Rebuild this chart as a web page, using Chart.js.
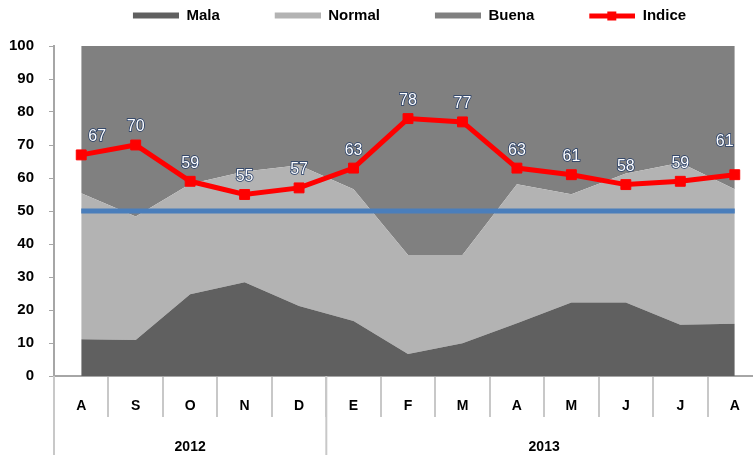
<!DOCTYPE html>
<html>
<head>
<meta charset="utf-8">
<script src="https://cdn.jsdelivr.net/npm/chart.js@4.4.1/dist/chart.umd.min.js"></script>
<style>
  html, body { margin: 0; padding: 0; background: #fff; overflow: hidden; }
  #wrap { width: 753px; height: 455px; }
</style>
</head>
<body>
<div id="wrap"><canvas id="encuesta" width="753" height="455"></canvas></div>
<script>
const meses = ['A', 'S', 'O', 'N', 'D', 'E', 'F', 'M', 'A', 'M', 'J', 'J', 'A'];
const anios = ['2012', '2013'];
const mesesPorAnio = [5, 8];

const mala = [11.1, 10.9, 24.8, 28.4, 21.2, 16.7, 6.7, 9.9, 16.0, 22.3, 22.3, 15.5, 15.8];
const normal = [44.3, 37.4, 33.4, 33.6, 42.7, 39.9, 30.0, 26.8, 42.1, 32.8, 39.1, 49.1, 40.8];
const buena = [44.6, 51.7, 41.8, 38.0, 36.1, 43.4, 63.3, 63.3, 41.9, 44.9, 38.6, 35.4, 43.4];
const indice = [67, 70, 59, 55, 57, 63, 78, 77, 63, 61, 58, 59, 61];
const referencia = [50, 50, 50, 50, 50, 50, 50, 50, 50, 50, 50, 50, 50];

const SANS = "'Liberation Sans', Arial, sans-serif";

// legend swatches (transparent left part gives the wide gap between items)
function muestra(color, conMarca) {
  const c = document.createElement('canvas');
  c.width = 100; c.height = 12;
  const g = c.getContext('2d');
  g.fillStyle = color;
  if (conMarca) {
    g.fillRect(54, 4, 46, 5);
    g.fillRect(72, 2, 9, 9);
  } else {
    g.fillRect(54, 3, 46, 6);
  }
  return c;
}
const muestras = [muestra('#606060'), muestra('#b3b3b3'), muestra('#808080'), muestra('#ff0000', true)];

const leyendaAlta = {
  id: 'leyendaAlta',
  beforeLayout(chart) {
    const lg = chart.legend;
    if (lg && !lg._alto) {
      const fit = lg.fit;
      lg.fit = function () { fit.call(this); this.height = 39; };
      lg._alto = true;
    }
  },
  // the plot area runs a little past the right edge of the picture
  afterLayout(chart) {
    const x = chart.scales.x;
    x.right = 762;
    x.width = x.right - x.left;
    x.configure();
    chart.chartArea.right = 762;
    chart.chartArea.width = chart.chartArea.right - chart.chartArea.left;
    chart.legend.left += 6;
    chart.legend.right += 6;
  }
};

const etiquetas = {
  id: 'etiquetas',
  afterDatasetsDraw(chart) {
    const ctx = chart.ctx;
    const meta = chart.getDatasetMeta(3);
    ctx.save();
    ctx.font = '16px ' + SANS;
    ctx.textAlign = 'center';
    ctx.textBaseline = 'middle';
    meta.data.forEach((p, i) => {
      let dx = 0, dy = -18;
      if (i === 0) dx = 16;
      if (i === meta.data.length - 1) { dx = -10; dy = -33; }
      const t = String(indice[i]);
      ctx.lineWidth = 1.5;
      ctx.strokeStyle = '#1f3864';
      ctx.strokeText(t, p.x + dx, p.y + dy);
      ctx.fillStyle = '#ffffff';
      ctx.fillText(t, p.x + dx, p.y + dy);
    });
    ctx.restore();
  }
};

const ejeAnios = {
  id: 'ejeAnios',
  afterDraw(chart) {
    const x = chart.scales.x, ctx = chart.ctx;
    const paso = x.getPixelForValue(1) - x.getPixelForValue(0);
    ctx.save();
    ctx.strokeStyle = '#c8c8c8';
    ctx.lineWidth = 2;
    ctx.fillStyle = '#000';
    ctx.font = 'bold 14px ' + SANS;
    ctx.textAlign = 'center';
    ctx.textBaseline = 'middle';
    let inicio = 0;
    anios.forEach((a, k) => {
      const izq = x.getPixelForValue(inicio) - paso / 2;
      const der = x.getPixelForValue(inicio + mesesPorAnio[k] - 1) + paso / 2;
      ctx.beginPath();
      ctx.moveTo(izq, x.top);
      ctx.lineTo(izq, chart.height);
      ctx.stroke();
      ctx.fillText(a, (izq + der) / 2, 447);
      inicio += mesesPorAnio[k];
    });
    ctx.restore();
  }
};

function area(label, data, color, fill) {
  return {
    label: label, data: data, fill: fill,
    backgroundColor: color, borderColor: 'rgba(0,0,0,0)', borderWidth: 0,
    pointRadius: 0, pointHoverRadius: 0, tension: 0, stack: 'encuesta', order: 3
  };
}

new Chart(document.getElementById('encuesta'), {
  type: 'line',
  data: {
    labels: meses,
    datasets: [
      area('Mala', mala, '#606060', 'origin'),
      area('Normal', normal, '#b3b3b3', '-1'),
      area('Buena', buena, '#808080', '-1'),
      {
        label: 'Indice', data: indice, stack: 'indice', order: 1,
        borderColor: '#ff0000', borderWidth: 5, fill: false, tension: 0,
        pointStyle: 'rect', pointRadius: 7, pointBackgroundColor: '#ff0000',
        pointBorderColor: '#ff0000', pointBorderWidth: 1, pointHoverRadius: 7
      },
      {
        label: 'Meta', data: referencia, stack: 'meta', order: 2,
        borderColor: '#4a7ebb', borderWidth: 5, fill: false,
        pointRadius: 0, pointHoverRadius: 0
      }
    ]
  },
  options: {
    responsive: false,
    animation: false,
    layout: { padding: { left: 0, top: 7, right: 0, bottom: 0 } },
    plugins: {
      tooltip: { enabled: false },
      legend: {
        position: 'top',
        labels: {
          usePointStyle: true,
          pointStyleWidth: 100,
          padding: 1,
          color: '#000',
          font: { family: SANS, size: 15, weight: 'bold' },
          filter: item => item.datasetIndex < 4,
          sort: (a, b) => a.datasetIndex - b.datasetIndex,
          generateLabels(chart) {
            const items = Chart.defaults.plugins.legend.labels.generateLabels(chart);
            items.forEach(it => { it.pointStyle = muestras[it.datasetIndex] || it.pointStyle; });
            return items;
          }
        }
      }
    },
    scales: {
      x: {
        offset: true,
        grid: { offset: true, drawOnChartArea: false, tickLength: 41, color: '#c8c8c8', lineWidth: 2 },
        border: { color: '#a6a6a6', width: 2 },
        ticks: { padding: -19, color: '#000', maxRotation: 0, autoSkip: false,
                 font: { family: SANS, size: 14, weight: 'bold' } },
        afterFit(s) { s.height = 79; }
      },
      y: {
        stacked: true, min: 0, max: 100,
        grid: { drawOnChartArea: false, tickLength: 5, color: '#a6a6a6' },
        border: { color: '#a6a6a6', width: 2 },
        ticks: { stepSize: 10, padding: 15, color: '#000',
                 font: { family: SANS, size: 15, weight: 'bold' } },
        afterFit(s) { s.width = 54; }
      }
    }
  },
  plugins: [leyendaAlta, etiquetas, ejeAnios]
});
</script>
</body>
</html>
